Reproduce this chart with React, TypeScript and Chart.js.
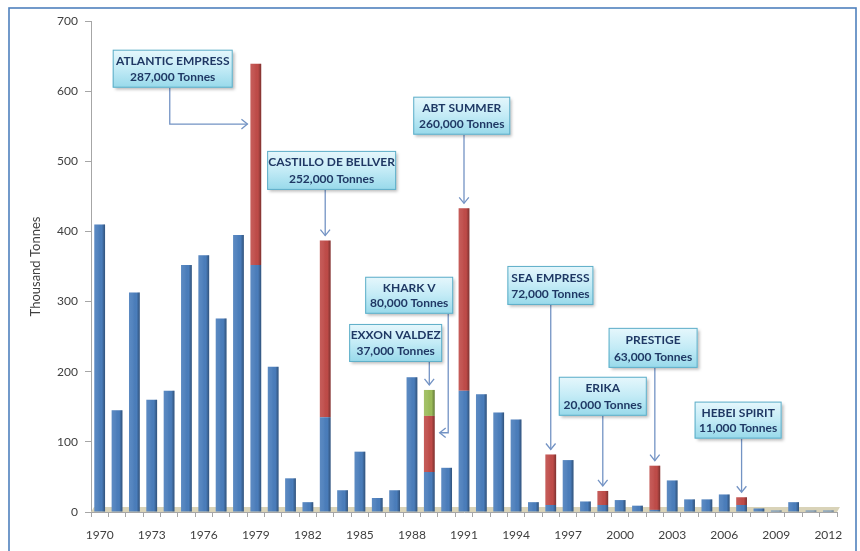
import React, { useEffect, useRef } from "react";
import { Chart, registerables } from "chart.js";

Chart.register(...registerables);

// ---------- DATA ----------
const years = [
  "1970", "1971", "1972", "1973", "1974", "1975", "1976", "1977", "1978", "1979",
  "1980", "1981", "1982", "1983", "1984", "1985", "1986", "1987", "1988", "1989",
  "1990", "1991", "1992", "1993", "1994", "1995", "1996", "1997", "1998", "1999",
  "2000", "2001", "2002", "2003", "2004", "2005", "2006", "2007", "2008", "2009",
  "2010", "2011", "2012",
];

// other spills (thousand tonnes)
const otherSpills = [
  410, 145, 313, 160, 173, 352, 366, 276, 395, 352,
  207, 48, 14, 135, 31, 86, 20, 31, 192, 57,
  63, 173, 168, 142, 132, 14, 10, 74, 15, 10,
  17, 9, 3, 45, 18, 18, 25, 10, 5, 2,
  14, 2, 2,
];

// major incidents (thousand tonnes)
const majorSpills: (number | null)[] = [
  null, null, null, null, null, null, null, null, null, 287,
  null, null, null, 252, null, null, null, null, null, 80,
  null, 260, null, null, null, null, 72, null, null, 20,
  null, null, 63, null, null, null, null, 11, null, null,
  null, null, null,
];

// Exxon Valdez (thousand tonnes)
const exxonSpill: (number | null)[] = [
  null, null, null, null, null, null, null, null, null, null,
  null, null, null, null, null, null, null, null, null, 37,
  null, null, null, null, null, null, null, null, null, null,
  null, null, null, null, null, null, null, null, null, null,
  null, null, null,
];

const yTicks = [0, 100, 200, 300, 400, 500, 600, 700];
const labelEvery = 3;

const incidentNames = [
  "ATLANTIC EMPRESS", "CASTILLO DE BELLVER", "ABT SUMMER", "KHARK V", "EXXON VALDEZ",
  "SEA EMPRESS", "ERIKA", "PRESTIGE", "HEBEI SPIRIT",
];
const incidentTonnes = [
  "287,000 Tonnes", "252,000 Tonnes", "260,000 Tonnes", "80,000 Tonnes", "37,000 Tonnes",
  "72,000 Tonnes", "20,000 Tonnes", "63,000 Tonnes", "11,000 Tonnes",
];
const incidentYears = ["1979", "1983", "1991", "1989", "1989", "1996", "1999", "2002", "2007"];

// ---------- LAYOUT / STYLE of the call-outs ----------
// cx: category position (float), cy: value of box centre, w/h in px
const calloutLayout = [
  { cx: 4.21, cy: 632, w: 120, h: 38, arrow: "elbowRight", sx: 4.04, ey: 553 },
  { cx: 13.37, cy: 487, w: 129, h: 39, arrow: "down" },
  { cx: 20.87, cy: 565, w: 97, h: 38, arrow: "down" },
  { cx: 17.84, cy: 309, w: 88, h: 37, arrow: "elbowLeft", sx: 20.09, ey: 113 },
  { cx: 17.06, cy: 241, w: 93, h: 38, arrow: "down" },
  { cx: 25.98, cy: 323, w: 86, h: 39, arrow: "down" },
  { cx: 29.0, cy: 165, w: 88, h: 39, arrow: "down" },
  { cx: 31.9, cy: 234, w: 89, h: 40, arrow: "down" },
  { cx: 36.8, cy: 131, w: 87, h: 37, arrow: "down" },
];

const FONT = "Lato, 'Open Sans', 'DejaVu Sans', sans-serif";

const framePlugin = {
  id: "frame",
  beforeDraw(chart: any) {
    const ctx = chart.ctx;
    ctx.save();
    ctx.fillStyle = "#ffffff";
    ctx.fillRect(0, 0, chart.width, chart.height);
    ctx.strokeStyle = "#4f81bd";
    ctx.lineWidth = 1.6;
    ctx.strokeRect(9, 8, 847, 560);
    ctx.restore();
  },
  beforeDatasetsDraw(chart: any) {
    const { ctx, chartArea } = chart;
    ctx.save();
    ctx.fillStyle = "#d9d3b8";
    ctx.beginPath();
    ctx.moveTo(chartArea.left, chartArea.bottom);
    ctx.lineTo(chartArea.right, chartArea.bottom);
    ctx.lineTo(chartArea.right + 3, chartArea.bottom - 5);
    ctx.lineTo(chartArea.left + 3, chartArea.bottom - 5);
    ctx.closePath();
    ctx.fill();
    ctx.restore();
  },
};

const shadePlugin = {
  id: "shade",
  afterDatasetsDraw(chart: any) {
    const ctx = chart.ctx;
    ctx.save();
    chart.data.datasets.forEach((ds: any, di: number) => {
      const meta = chart.getDatasetMeta(di);
      meta.data.forEach((el: any, i: number) => {
        if (ds.data[i] == null) return;
        const l = el.x - el.width / 2;
        const r = el.x + el.width / 2;
        const g = ctx.createLinearGradient(l, 0, r, 0);
        g.addColorStop(0, "rgba(255,255,255,0.10)");
        g.addColorStop(0.35, "rgba(255,255,255,0.05)");
        g.addColorStop(0.7, "rgba(0,0,0,0.0)");
        g.addColorStop(1, "rgba(0,0,0,0.35)");
        ctx.fillStyle = g;
        ctx.fillRect(l, el.y, el.width, el.base - el.y);
      });
    });
    ctx.restore();
  },
};

function drawHead(ctx: any, x: number, y: number, dir: string) {
  const s = 6;
  ctx.beginPath();
  if (dir === "down") {
    ctx.moveTo(x - s * 0.8, y - s);
    ctx.lineTo(x, y);
    ctx.lineTo(x + s * 0.8, y - s);
  } else if (dir === "right") {
    ctx.moveTo(x - s, y - s * 0.8);
    ctx.lineTo(x, y);
    ctx.lineTo(x - s, y + s * 0.8);
  } else {
    ctx.moveTo(x + s, y - s * 0.8);
    ctx.lineTo(x, y);
    ctx.lineTo(x + s, y + s * 0.8);
  }
  ctx.stroke();
}

const calloutPlugin = {
  id: "callouts",
  afterDraw(chart: any) {
    const { ctx, scales } = chart;
    const xs = scales.x;
    const ys = scales.y;
    const x0 = xs.getPixelForValue(0);
    const step = xs.getPixelForValue(1) - x0;
    const px = (c: number) => x0 + c * step;

    const barInfo = (idx: number) => {
      let top = Infinity;
      let half = 0;
      chart.data.datasets.forEach((ds: any, di: number) => {
        if (ds.data[idx] == null) return;
        const el = chart.getDatasetMeta(di).data[idx];
        if (el.y < top) top = el.y;
        half = el.width / 2;
      });
      return { top, half, x: px(idx) };
    };

    ctx.save();
    calloutLayout.forEach((lay, k) => {
      const idx = years.indexOf(incidentYears[k]);
      const bar = barInfo(idx);
      const bx = px(lay.cx) - lay.w / 2;
      const by = ys.getPixelForValue(lay.cy) - lay.h / 2;

      // arrow
      ctx.strokeStyle = "#7393c4";
      ctx.lineWidth = 1.3;
      if (lay.arrow === "down") {
        const ax = bar.x;
        ctx.beginPath();
        ctx.moveTo(ax, by + lay.h);
        ctx.lineTo(ax, bar.top - 5);
        ctx.stroke();
        drawHead(ctx, ax, bar.top - 5, "down");
      } else if (lay.arrow === "elbowRight") {
        const sx = px(lay.sx as number);
        const ey = ys.getPixelForValue(lay.ey as number);
        const ex = bar.x - bar.half - 3;
        ctx.beginPath();
        ctx.moveTo(sx, by + lay.h);
        ctx.lineTo(sx, ey);
        ctx.lineTo(ex, ey);
        ctx.stroke();
        drawHead(ctx, ex, ey, "right");
      } else {
        const sx = px(lay.sx as number);
        const ey = ys.getPixelForValue(lay.ey as number);
        const ex = bar.x + bar.half + 5;
        ctx.beginPath();
        ctx.moveTo(sx, by + lay.h);
        ctx.lineTo(sx, ey);
        ctx.lineTo(ex, ey);
        ctx.stroke();
        drawHead(ctx, ex, ey, "left");
      }

      // box
      ctx.save();
      ctx.shadowColor = "rgba(0,0,0,0.28)";
      ctx.shadowBlur = 3;
      ctx.shadowOffsetX = 2;
      ctx.shadowOffsetY = 2;
      const g = ctx.createLinearGradient(0, by, 0, by + lay.h);
      g.addColorStop(0, "#e6f7fc");
      g.addColorStop(0.5, "#c3ebf6");
      g.addColorStop(1, "#97d9ea");
      ctx.fillStyle = g;
      ctx.fillRect(bx, by, lay.w, lay.h);
      ctx.restore();
      ctx.strokeStyle = "#5eaec8";
      ctx.lineWidth = 1;
      ctx.strokeRect(bx + 0.5, by + 0.5, lay.w - 1, lay.h - 1);

      ctx.fillStyle = "#1f3864";
      ctx.font = `bold 12px ${FONT}`;
      ctx.textAlign = "center";
      ctx.textBaseline = "middle";
      const cx = bx + lay.w / 2;
      ctx.fillText(incidentNames[k], cx, by + lay.h * 0.3);
      ctx.fillText(incidentTonnes[k], cx, by + lay.h * 0.72);
    });
    ctx.restore();
  },
};

export default function App() {
  const ref = useRef<HTMLCanvasElement | null>(null);

  useEffect(() => {
    if (!ref.current) return;
    const chart = new Chart(ref.current, {
      type: "bar",
      data: {
        labels: years,
        datasets: [
          {
            label: "Other spills",
            data: otherSpills,
            backgroundColor: "#4a7dbb",
            barPercentage: 0.62,
            categoryPercentage: 1,
          },
          {
            label: "Major incidents",
            data: majorSpills,
            backgroundColor: "#bf4b48",
            barPercentage: 0.62,
            categoryPercentage: 1,
          },
          {
            label: "Exxon Valdez",
            data: exxonSpill,
            backgroundColor: "#9bbb59",
            barPercentage: 0.62,
            categoryPercentage: 1,
          },
        ],
      },
      options: {
        animation: false,
        responsive: false,
        maintainAspectRatio: false,
        layout: { padding: { left: 0, right: 23, top: 21, bottom: 0 } },
        plugins: {
          legend: { display: false },
          tooltip: { enabled: false },
        },
        scales: {
          x: {
            stacked: true,
            grid: {
              display: true,
              drawOnChartArea: false,
              tickLength: 5,
              color: "#a6a6a6",
              offset: true,
            },
            border: { display: true, color: "#a6a6a6" },
            ticks: {
              autoSkip: false,
              maxRotation: 0,
              minRotation: 0,
              padding: 11,
              color: "#404040",
              font: { family: FONT, size: 12 },
              callback: (_v: any, i: number) => (i % labelEvery === 0 ? years[i] : ""),
            },
            afterFit: (s: any) => {
              s.height = 39;
            },
          },
          y: {
            stacked: true,
            min: yTicks[0],
            max: yTicks[yTicks.length - 1],
            afterBuildTicks: (s: any) => {
              s.ticks = yTicks.map((v) => ({ value: v }));
            },
            grid: {
              display: true,
              drawOnChartArea: false,
              tickLength: 6,
              color: "#a6a6a6",
            },
            border: { display: true, color: "#a6a6a6" },
            ticks: {
              padding: 7,
              color: "#404040",
              font: { family: FONT, size: 12 },
            },
            title: {
              display: true,
              text: "Thousand Tonnes",
              color: "#404040",
              font: { family: FONT, size: 13 },
              padding: { top: 28, bottom: 0 },
            },
            afterFit: (s: any) => {
              s.width = 91;
            },
          },
        },
      },
      plugins: [framePlugin, shadePlugin, calloutPlugin],
    });
    return () => chart.destroy();
  }, []);

  return (
    <div style={{ position: "fixed", left: 0, top: 0, width: 860, height: 551, overflow: "hidden" }}>
      <canvas ref={ref} width={860} height={551} style={{ display: "block", width: 860, height: 551 }} />
    </div>
  );
}
